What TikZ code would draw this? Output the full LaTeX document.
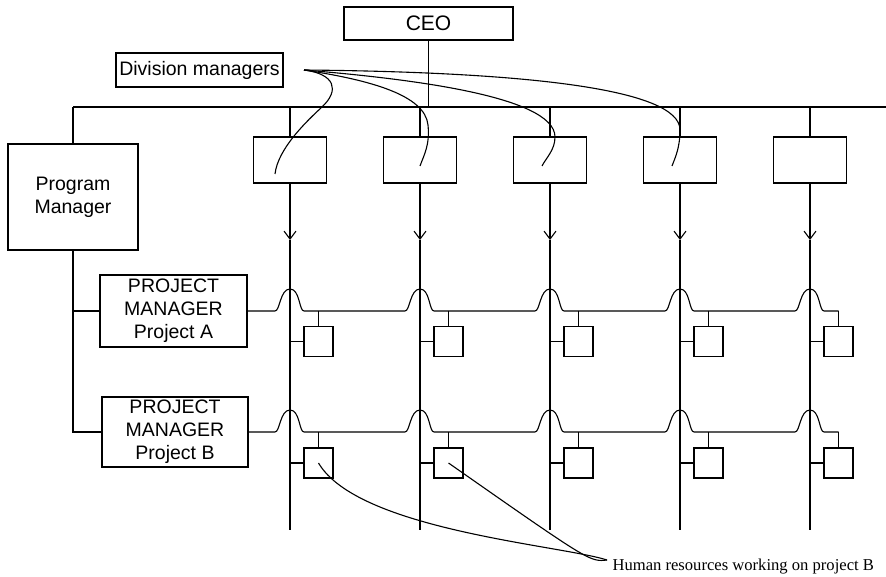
\documentclass[tikz,border=0pt]{standalone}
\usepackage{fontspec}
\setmainfont{Liberation Sans}
\newfontfamily\seriffont{Liberation Serif}
\usetikzlibrary{arrows.meta}
\begin{document}
\begin{tikzpicture}[x=1pt,y=-1pt,line width=1.1pt,
  box/.style={draw, inner sep=0pt, align=center, font=\fontsize{19.5}{23}\selectfont},
  dbox/.style={draw, minimum width=73pt, minimum height=46pt, inner sep=0pt},
  hbox/.style={draw, minimum width=29pt, minimum height=30pt, inner sep=0pt},
  tipline/.style={-{Straight Barb[length=8pt,width=12pt]}}]
\useasboundingbox (0,0) rectangle (886,577);

% boxes
\node[box, minimum width=169pt, minimum height=33pt, font=\fontsize{21}{24}\selectfont] (ceo) at (428.5,23.5) {CEO};
\node[box, minimum width=167pt, minimum height=34pt] (dm) at (199.5,70) {Division managers};
\node[box, minimum width=130pt, minimum height=106pt] (pm) at (73,197) {Program\\Manager};
\node[box, minimum width=147pt, minimum height=72pt] (pa) at (173.5,311) {PROJECT\\MANAGER\\Project A};
\node[box, minimum width=146pt, minimum height=70pt] (pb) at (175,432) {PROJECT\\MANAGER\\Project B};

% top bar
\coordinate (barL) at (73,107);
\coordinate (barR) at (886,107);
\draw (barL) -- (barR);
\draw (ceo.south) -- (ceo.south |- barL);
\draw (barL) -- (pm.north);
\draw (pm.south) -- (pm.south |- pb.west) -- (pb.west);
\draw (pm.south |- pa.west) -- (pa.west);

% columns
\foreach \c/\i in {290/1,420/2,550/3,680/4,810/5}{
  \node[dbox] (d\i) at (\c,160) {};
  \coordinate (t\i) at (\c,107);
  \coordinate (m\i) at (\c,240);
  \coordinate (e\i) at (\c,530);
  \draw (t\i) -- (d\i.north);
  \draw[tipline] (d\i.south) -- (m\i);
  \draw (m\i) -- (e\i);
  \node[hbox] (a\i) at (\c+28.5,341.5) {};
  \node[hbox] (b\i) at (\c+28.5,463) {};
  \draw (a\i.west -| t\i) -- (a\i.west);
  \draw (b\i.west -| t\i) -- (b\i.west);
  \draw (a\i.north |- pa.east) -- (a\i.north);
  \draw (b\i.north |- pb.east) -- (b\i.north);
}

% project rows with hops
\draw (pa.east) foreach \c in {290,420,550,680,810}{
  -- (\c-15,311) .. controls (\c-10,311) and (\c-10,289) .. (\c,289)
  .. controls (\c+10,289) and (\c+9,311) .. (\c+14,311) } -- (838.5,311);
\draw (pb.east) foreach \c in {290,420,550,680,810}{
  -- (\c-15,432) .. controls (\c-10,432) and (\c-10,410) .. (\c,410)
  .. controls (\c+10,410) and (\c+9,432) .. (\c+14,432) } -- (838.5,432);

% division manager pointers
\coordinate (dmt) at (304,70);
\draw (dmt) .. controls (335,74) and (340,90) .. (322,107)
  .. controls (308,120) and (278,148) .. (275,174);
\draw (dmt) .. controls (370,80) and (425,95) .. (428,125)
  .. controls (430,145) and (424,155) .. (420,166);
\draw (dmt) .. controls (400,78) and (555,95) .. (555,137)
  .. controls (555,150) and (546,158) .. (542,166);
\draw (dmt) .. controls (520,72) and (680,88) .. (680,130)
  .. controls (680,148) and (675,158) .. (672,166);

% human resources label
\node[anchor=base west, inner sep=0pt, font=\seriffont\fontsize{16.6}{19}\selectfont] (hr) at (612,570) {Human resources working on project B};
\coordinate (hrp) at (607,560);
\draw (b1.center) .. controls (358,530) and (560,545) .. (hrp);
\draw (b2.center) .. controls (590,562) .. (hrp);
\end{tikzpicture}
\end{document}
